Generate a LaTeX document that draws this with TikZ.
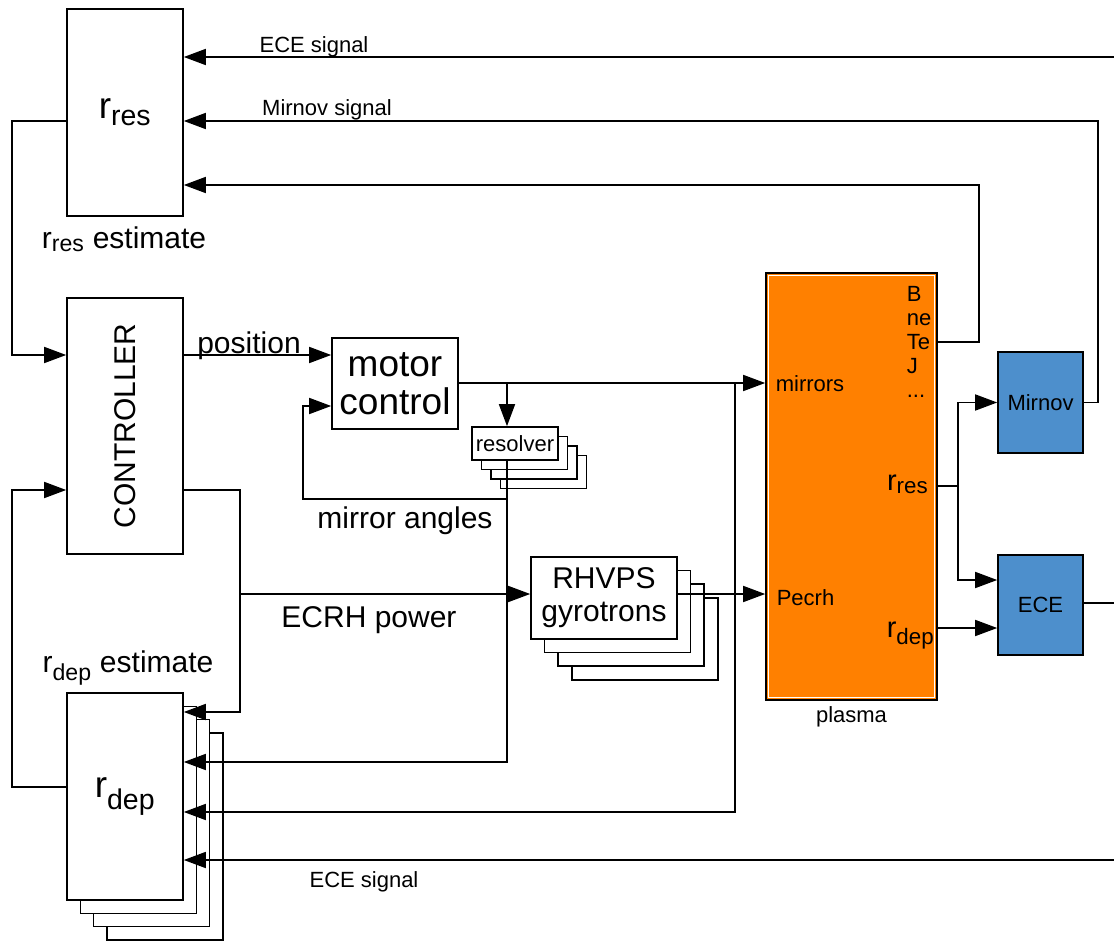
\documentclass[tikz,border=0pt]{standalone}
\usepackage{fontspec}
\setmainfont{Liberation Sans}
\usetikzlibrary{positioning,arrows.meta,calc}
\definecolor{plasmaorange}{RGB}{255,128,0}
\definecolor{diagblue}{RGB}{77,143,204}
\renewcommand\defaultscriptratio{.77}
\newcommand\smallf{\fontsize{22}{24}\selectfont}
\newcommand\midf{\fontsize{30}{33}\selectfont}
\newcommand\bigf{\fontsize{37}{38}\selectfont}

\begin{document}
\begin{tikzpicture}[x=1pt, y=-1pt, line width=1.6pt, line join=miter,
  blk/.style={rectangle, draw=black, fill=#1, inner sep=0pt},
  blk/.default=white,
  txt/.style={inner sep=0pt},
  ar/.style={-{Triangle[length=22pt,width=16pt]}},
]
\useasboundingbox (0,0) rectangle (1114,940);

% estimators and controller
\node[blk, minimum width=116pt, minimum height=207pt, font=\bigf] (rres) at (125,112.5) {r\textsubscript{res}};
\node[txt, anchor=base, font=\midf] (rreslbl) at (124,248) {r\textsubscript{res} estimate};

\node[blk, minimum width=116pt, minimum height=256pt] (ctrl) at (125,426) {};
\node[txt, rotate=90, font=\midf] (ctrllbl) at (ctrl.center) {CONTROLLER};

\foreach \k in {3,2,1}
  \node[blk, minimum width=116pt, minimum height=207pt] at (125+13.3*\k, 796.5+13.3*\k) {};
\node[blk, minimum width=116pt, minimum height=207pt, font=\bigf] (rdep) at (125,796.5) {r\textsubscript{dep}};
\node[txt, anchor=base, font=\midf] (rdeplbl) at (128,672) {r\textsubscript{dep} estimate};

% actuators
\node[blk, minimum width=126pt, minimum height=91pt, font=\bigf, align=center] (motor) at (395,383.5) {motor\\control};

\foreach \k in {3,2,1}
  \node[blk, minimum width=86pt, minimum height=33pt] at (515+9.5*\k, 443.5+9.5*\k) {};
\node[blk, minimum width=86pt, minimum height=33pt, font=\smallf] (resolver) at (515,443.5) {resolver};

\foreach \k in {3,2,1}
  \node[blk, minimum width=146pt, minimum height=82pt] at (604+13.6*\k, 598+13.6*\k) {};
\node[blk, minimum width=146pt, minimum height=82pt, font=\midf, align=center] (rhvps) at (604,598) {RHVPS\\gyrotrons};

% plasma and diagnostics
\node[blk=plasmaorange, minimum width=171pt, minimum height=427pt] (plasma) at (851.5,486.5) {};
\draw[white, line width=1pt] ($(plasma.south west)+(3,-3)$) rectangle ($(plasma.north east)+(-3,3)$);
\node[txt, anchor=base, font=\smallf] (plasmalbl) at (851.5,722) {plasma};
\node[txt, anchor=base west, font=\smallf] (mirrorslbl) at (775,391) {mirrors};
\node[txt, anchor=base west, font=\smallf] (pecrhlbl) at (776,605) {Pecrh};
\node[txt, anchor=north west, align=left, font=\smallf] (quantlbl) at (906,286) {B\\ne\\Te\\J\\...};
\node[txt, anchor=base east, font=\fontsize{29}{30}\selectfont] (rresout) at (929,490) {r\textsubscript{res}};
\node[txt, anchor=base east, font=\fontsize{29}{30}\selectfont] (rdepout) at (935,637) {r\textsubscript{dep}};

\node[blk=diagblue, minimum width=85pt, minimum height=101pt, font=\smallf] (mirnov) at (1040.5,402.5) {Mirnov};
\node[blk=diagblue, minimum width=85pt, minimum height=100pt, font=\smallf] (ece) at (1040.5,605) {ECE};

% free ends and junctions
\coordinate (ecetop) at (1114,57);
\coordinate (ecebot) at (1114,860);
\coordinate (eceout) at (1114,603);
\coordinate (mcsplit) at (507,383);
\coordinate (mirsplit) at (735,383);
\coordinate (angsplit) at (507,499);
\coordinate (pwrsplit) at (240,594);
\coordinate (ressplit) at (958,486);

% signals to the r_res estimator
\draw[ar] (ecetop) -- (ecetop -| rres.east);
\node[txt, anchor=base, font=\smallf] (ecetoplbl) at (314,52) {ECE signal};
\draw[ar] (mirnov.east) -- ++(14,0) |- (rres.east |- 0,121);
\node[txt, anchor=base, font=\smallf] (mirnovlbl) at (327,115) {Mirnov signal};
\draw[ar] (plasma.east |- 0,342) -- (979,342) |- (rres.east |- 0,185);

% controller loops
\draw[ar] (rres.west |- 0,121) -- (12,121) |- (ctrl.west |- 0,355);
\draw[ar] (rdep.west |- 0,787) -- (12,787) |- (ctrl.west |- 0,490);
\draw[ar] (ctrl.east |- 0,355) -- (motor.west |- 0,355);
\node[txt, anchor=base, font=\midf] (poslbl) at (249,353) {position};

% mirrors
\draw[ar] (motor.east |- mcsplit) -- (plasma.west |- mcsplit);
\draw[ar] (mcsplit) -- (resolver.north -| mcsplit);
\draw[ar] (resolver.south -| mcsplit) |- (rdep.east |- 0,762);
\draw[ar] (angsplit) -| (303,406) -- (motor.west |- 0,406);
\node[txt, anchor=base, font=\midf] (anglbl) at (405,528) {mirror angles};
\draw[ar] (mirsplit) |- (rdep.east |- 0,812);

% power
\draw[ar] (ctrl.east |- 0,490) -| (240,712) -- (rdep.east |- 0,712);
\draw[ar] (pwrsplit) -- (rhvps.west |- pwrsplit);
\node[txt, anchor=base, font=\midf] (pwrlbl) at (369,627) {ECRH power};
\draw[ar] (rhvps.east |- pwrsplit) -- (plasma.west |- pwrsplit);

% diagnostics
\draw (plasma.east |- ressplit) -- (ressplit);
\draw[ar] (ressplit) |- (mirnov.west);
\draw[ar] (ressplit) |- (ece.west |- 0,580);
\draw[ar] (plasma.east |- 0,628) -- (ece.west |- 0,628);
\draw (ece.east |- eceout) -- (eceout);
\draw[ar] (ecebot) -- (ecebot -| rdep.east);
\node[txt, anchor=base, font=\smallf] (ecebotlbl) at (364,887) {ECE signal};

\end{tikzpicture}
\end{document}
